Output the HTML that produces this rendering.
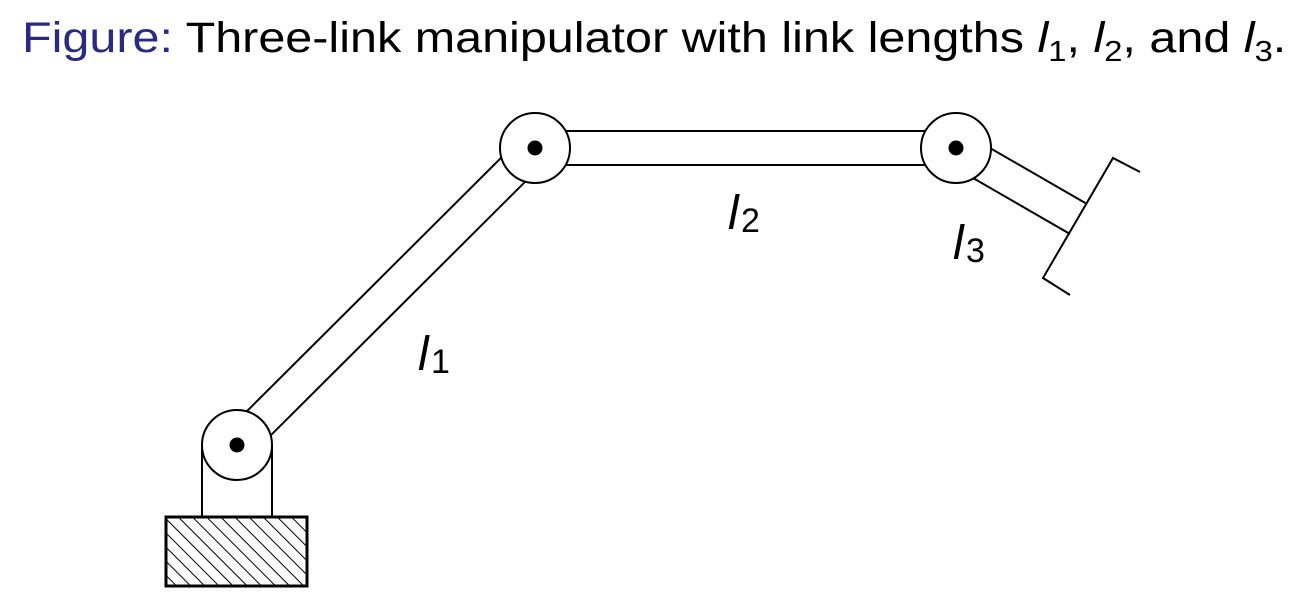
<!DOCTYPE html>
<html><head><style>
body{margin:0;background:#fff;width:1295px;height:615px;overflow:hidden;position:relative;font-family:"Liberation Sans",sans-serif}
.t{position:absolute;left:22px;top:14px;font-size:43px;white-space:nowrap;color:#000;transform-origin:0 0;transform:scaleX(1.128)}
.t i{font-style:italic}
.t sub{font-size:29px;vertical-align:-9px;line-height:0}
</style></head><body>
<div class="t"><span style="color:#2a2a80">Figure:</span> Three-link manipulator with link lengths <i>l</i><sub>1</sub>, <i>l</i><sub>2</sub>, and <i>l</i><sub>3</sub>.</div>
<svg width="1295" height="615" style="position:absolute;left:0;top:0" xmlns="http://www.w3.org/2000/svg">
<defs>
<pattern id="h" width="10" height="10" patternUnits="userSpaceOnUse" patternTransform="rotate(-45)">
<line x1="0" y1="0" x2="0" y2="10" stroke="#000" stroke-width="2"/>
</pattern>
</defs>
<g stroke="#000" stroke-width="2" fill="none">
<rect x="166" y="517" width="141" height="69" fill="url(#h)" stroke-width="3"/>
<line x1="202" y1="445" x2="202" y2="517"/>
<line x1="272" y1="445" x2="272" y2="517"/>
<line x1="225" y1="433" x2="523" y2="136"/>
<line x1="249" y1="457" x2="547" y2="160"/>
<line x1="535" y1="131" x2="956" y2="131"/>
<line x1="535" y1="165" x2="956" y2="165"/>
<line x1="964" y1="133" x2="1087" y2="204"/>
<line x1="947" y1="163" x2="1070" y2="234"/>
<polyline points="1140,172 1113,158 1043,278 1070,295"/>
<circle cx="237" cy="445" r="35" fill="#fff"/>
<circle cx="535" cy="148" r="35" fill="#fff"/>
<circle cx="956" cy="148" r="35" fill="#fff"/>
</g>
<g fill="#000">
<circle cx="237" cy="445" r="7.5"/>
<circle cx="535" cy="148" r="7.5"/>
<circle cx="956" cy="148" r="7.5"/>
</g>
<g font-family="Liberation Sans,sans-serif" font-size="48">
<text x="418" y="370" font-style="italic">l</text><text x="431" y="373" font-size="34">1</text>
<text x="728" y="229" font-style="italic">l</text><text x="741" y="232" font-size="34">2</text>
<text x="953" y="259" font-style="italic">l</text><text x="966" y="262" font-size="34">3</text>
</g>
</svg>
</body></html>
